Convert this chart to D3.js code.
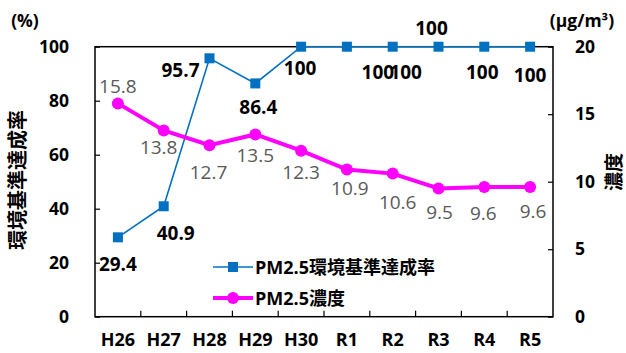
<!DOCTYPE html>
<html><head><meta charset="utf-8">
<script src="https://cdn.jsdelivr.net/npm/d3@7"></script>
<style>
body{margin:0;background:#fff;}
text{font-family:"Open Sans","Noto Sans CJK JP",sans-serif;}
</style></head>
<body><svg id="c" width="626" height="353"></svg>
<script>
const categories = ["H26","H27","H28","H29","H30","R1","R2","R3","R4","R5"];
const rateValues = [29.4,40.9,95.7,86.4,100,100,100,100,100,100];
const concValues = [15.8,13.8,12.7,13.5,12.3,10.9,10.6,9.5,9.6,9.6];
const leftTicks = [0,20,40,60,80,100];
const rightTicks = [0,5,10,15,20];
const rateName = "PM2.5環境基準達成率";
const concName = "PM2.5濃度";

// label placement offsets (dx, dy) relative to markers
const rateLabelOffset = [[0,27],[12,27],[-29,12],[3,24],[-1,21],[31,25],[13,25],[-7,-19],[-2,25],[0,28]];
const concLabelOffset = [[0,-17],[-5,17],[-1,27],[0,21],[0,21],[3,18],[5,28],[1,24],[-1,26],[3,24]];

const svg = d3.select("#c");
const L=95, R=553, T=46.7, B=316.7;
const x = d3.scaleBand().domain(categories).range([L,R]);
const yL = d3.scaleLinear().domain([0,100]).range([B,T]);
const yR = d3.scaleLinear().domain([0,20]).range([B,T]);
const blue="#0070C0", pink="#FF00FF";

// frame
svg.append("rect").attr("x",L).attr("y",T).attr("width",R-L).attr("height",B-T)
  .attr("fill","none").attr("stroke","#000").attr("stroke-width",1.5);

// left axis
const gl = svg.append("g").attr("transform",`translate(${L},0)`)
  .call(d3.axisLeft(yL).tickValues(leftTicks).tickSize(-5).tickPadding(26));
gl.select(".domain").remove();
gl.selectAll("line").attr("stroke","#000").attr("stroke-width",1.2);
gl.selectAll("text").attr("font-size",17.5).attr("font-weight","bold").attr("fill","#000");

// right axis
const gr = svg.append("g").attr("transform",`translate(${R},0)`)
  .call(d3.axisRight(yR).tickValues(rightTicks).tickSize(-5).tickPadding(22));
gr.select(".domain").remove();
gr.selectAll("line").attr("stroke","#000").attr("stroke-width",1.2);
gr.selectAll("text").attr("font-size",17.5).attr("font-weight","bold").attr("fill","#000");

// x axis
const gx = svg.append("g").attr("transform",`translate(0,${B})`)
  .call(d3.axisBottom(x).tickSize(0).tickPadding(17));
gx.select(".domain").remove();
gx.selectAll("text").attr("font-size",18).attr("font-weight","bold").attr("fill","#000");
svg.append("g").selectAll("line").data(categories.slice(1)).join("line")
  .attr("x1",d=>x(d)).attr("x2",d=>x(d)).attr("y1",B).attr("y2",B-6)
  .attr("stroke","#000").attr("stroke-width",1.2);

// axis titles
svg.append("text").attr("x",25).attr("y",20).attr("text-anchor","middle").attr("dominant-baseline","central")
  .attr("font-size",17.5).attr("font-weight","bold").text("(%)");
svg.append("text").attr("x",582).attr("y",20).attr("text-anchor","middle").attr("dominant-baseline","central")
  .attr("font-size",17.5).attr("font-weight","bold").text("(μg/m³)");
svg.append("text").attr("transform","translate(17,180) rotate(-90)").attr("text-anchor","middle")
  .attr("dominant-baseline","central").attr("font-size",20).attr("font-weight","bold")
  .attr("font-family","'Noto Sans CJK JP'").text("環境基準達成率");
svg.append("text").attr("transform","translate(614,172) rotate(-90)").attr("text-anchor","middle")
  .attr("dominant-baseline","central").attr("font-size",19).attr("font-weight","bold")
  .attr("font-family","'Noto Sans CJK JP'").text("濃度");

const cx = d=>x(d)+x.bandwidth()/2;

// rate series
svg.append("path").datum(rateValues).attr("fill","none").attr("stroke",blue).attr("stroke-width",1.6)
  .attr("d",d3.line().x((d,i)=>cx(categories[i])).y(d=>yL(d)));
svg.append("g").selectAll("rect").data(rateValues).join("rect")
  .attr("x",(d,i)=>cx(categories[i])-5).attr("y",d=>yL(d)-5).attr("width",10).attr("height",10).attr("fill",blue);

// conc series
svg.append("path").datum(concValues).attr("fill","none").attr("stroke",pink).attr("stroke-width",4)
  .attr("d",d3.line().x((d,i)=>cx(categories[i])).y(d=>yR(d)));
svg.append("g").selectAll("circle").data(concValues).join("circle")
  .attr("cx",(d,i)=>cx(categories[i])).attr("cy",d=>yR(d)).attr("r",6).attr("fill",pink);

// labels
svg.append("g").selectAll("text").data(rateValues).join("text")
  .attr("x",(d,i)=>cx(categories[i])+rateLabelOffset[i][0]).attr("y",(d,i)=>yL(d)+rateLabelOffset[i][1])
  .attr("text-anchor","middle").attr("dominant-baseline","central")
  .attr("font-size",19).attr("font-weight","bold").attr("fill","#000").text(d=>d);
svg.append("g").selectAll("text").data(concValues).join("text")
  .attr("x",(d,i)=>cx(categories[i])+concLabelOffset[i][0]).attr("y",(d,i)=>yR(d)+concLabelOffset[i][1])
  .attr("text-anchor","middle").attr("dominant-baseline","central")
  .attr("font-size",19).attr("fill","#595959").text(d=>d.toFixed(1));

// legend
const lg = svg.append("g");
lg.append("line").attr("x1",213).attr("x2",253).attr("y1",267).attr("y2",267).attr("stroke",blue).attr("stroke-width",1.6);
lg.append("rect").attr("x",228).attr("y",262).attr("width",10).attr("height",10).attr("fill",blue);
lg.append("text").attr("x",255).attr("y",267).attr("dominant-baseline","central").attr("font-size",18)
  .attr("font-weight","bold").text(rateName);
lg.append("line").attr("x1",213).attr("x2",253).attr("y1",298).attr("y2",298).attr("stroke",pink).attr("stroke-width",4);
lg.append("circle").attr("cx",233).attr("cy",298).attr("r",6).attr("fill",pink);
lg.append("text").attr("x",255).attr("y",298).attr("dominant-baseline","central").attr("font-size",18)
  .attr("font-weight","bold").text(concName);
</script></body></html>
